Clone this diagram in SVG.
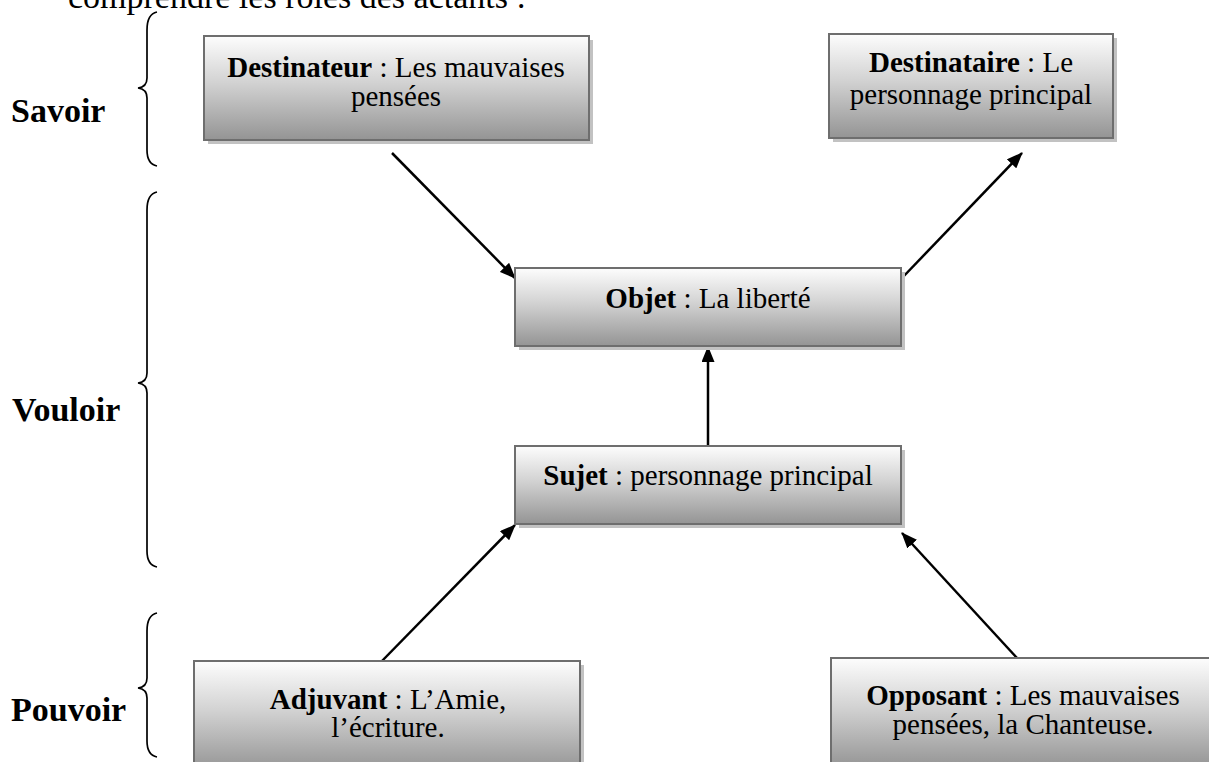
<svg xmlns="http://www.w3.org/2000/svg" width="1209" height="762" viewBox="0 0 1209 762">
<defs>
<linearGradient id="g" x1="0" y1="0" x2="0" y2="1">
<stop offset="0" stop-color="#fdfdfd"/>
<stop offset="0.45" stop-color="#d2d2d2"/>
<stop offset="1" stop-color="#949494"/>
</linearGradient>
<marker id="ah" viewBox="0 0 16 13" refX="15" refY="6.5" markerWidth="16" markerHeight="13" markerUnits="userSpaceOnUse" orient="auto">
<path d="M0,0 L16,6.5 L0,13 z" fill="#000"/>
</marker>
</defs>
<style>
.box{fill:url(#g);stroke:#6e6e6e;stroke-width:2}
.sh{fill:#c2c2c2}
.t{font-family:"Liberation Serif","Times New Roman",serif;font-size:29px;fill:#000;text-anchor:middle}
.b{font-weight:bold}
.lab{font-family:"Liberation Serif","Times New Roman",serif;font-size:34px;font-weight:bold;fill:#000}
.top{font-family:"Liberation Serif","Times New Roman",serif;font-size:34px;fill:#000}
.br{fill:none;stroke:#000;stroke-width:1.7}
.c{fill:none;stroke:#000;stroke-width:2.5;marker-end:url(#ah)}
</style>
<rect width="1209" height="762" fill="#fff"/>
<text class="top" x="68" y="8">comprendre les rôles des actants :</text>

<g id="savoir">
<path class="br" d="M157,12 Q147,14 147,30 L147,78 Q147,87 138,88 Q147,89 147,98 L147,150 Q147,164 157,166"/>
<text class="lab" x="11" y="122">Savoir</text>
</g>
<g id="vouloir">
<path class="br" d="M157,192 Q147,194 147,210 L147,373 Q147,382 138,383 Q147,384 147,393 L147,551 Q147,565 157,567"/>
<text class="lab" x="12" y="421">Vouloir</text>
</g>
<g id="pouvoir">
<path class="br" d="M157,613 Q147,615 147,631 L147,678 Q147,687 138,688 Q147,689 147,698 L147,741 Q147,755 157,757"/>
<text class="lab" x="11" y="721">Pouvoir</text>
</g>

<g id="connectors">
<line class="c" x1="392" y1="153" x2="515" y2="278"/>
<line class="c" x1="902" y1="278" x2="1022" y2="153"/>
<line class="c" x1="708" y1="446" x2="708" y2="347"/>
<line class="c" x1="381" y1="662" x2="515" y2="525"/>
<line class="c" x1="1017" y1="658" x2="902" y2="533"/>
</g>

<g id="destinateur">
<rect class="sh" x="208" y="40" width="385" height="104"/>
<rect class="box" x="204" y="36" width="385" height="104"/>
<text class="t" x="396" y="77"><tspan class="b">Destinateur</tspan> : Les mauvaises</text>
<text class="t" x="396" y="106">pensées</text>
</g>
<g id="destinataire">
<rect class="sh" x="833" y="38" width="284" height="104"/>
<rect class="box" x="829" y="34" width="284" height="104"/>
<text class="t" x="971" y="72"><tspan class="b">Destinataire</tspan> : Le</text>
<text class="t" x="971" y="104">personnage principal</text>
</g>
<g id="objet">
<rect class="sh" x="519" y="272" width="386" height="78"/>
<rect class="box" x="515" y="268" width="386" height="78"/>
<text class="t" x="708" y="308"><tspan class="b">Objet</tspan> : La liberté</text>
</g>
<g id="sujet">
<rect class="sh" x="519" y="450" width="386" height="78"/>
<rect class="box" x="515" y="446" width="386" height="78"/>
<text class="t" x="708" y="485"><tspan class="b">Sujet</tspan> : personnage principal</text>
</g>
<g id="adjuvant">
<rect class="sh" x="198" y="665" width="386" height="110"/>
<rect class="box" x="194" y="661" width="386" height="110"/>
<text class="t" x="388" y="709"><tspan class="b">Adjuvant</tspan> : L’Amie,</text>
<text class="t" x="388" y="737">l’écriture.</text>
</g>
<g id="opposant">
<rect class="sh" x="835" y="662" width="384" height="110"/>
<rect class="box" x="831" y="658" width="384" height="110"/>
<text class="t" x="1023" y="705"><tspan class="b">Opposant</tspan> : Les mauvaises</text>
<text class="t" x="1023" y="734">pensées, la Chanteuse.</text>
</g>
</svg>
